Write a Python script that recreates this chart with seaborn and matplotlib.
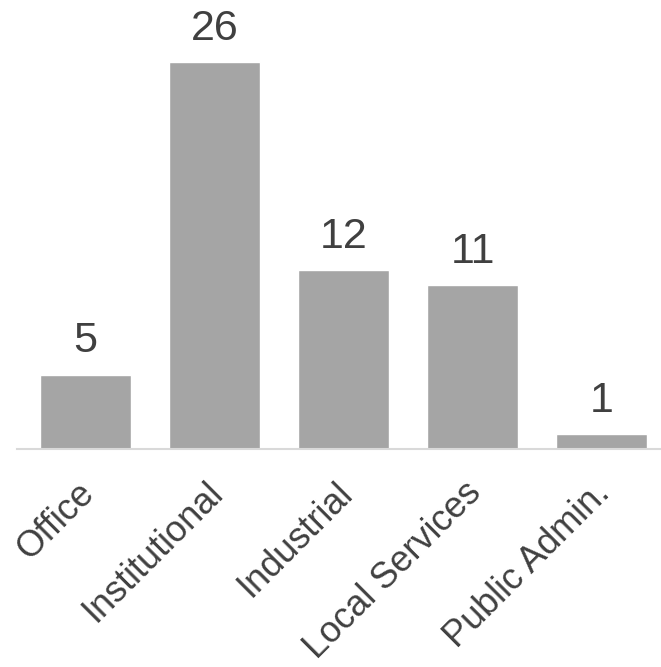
import matplotlib
matplotlib.use("Agg")
import matplotlib.pyplot as plt
import matplotlib.transforms as mtransforms
import seaborn as sns
import pandas as pd

categories = ["Office", "Institutional", "Industrial", "Local Services", "Public Admin."]
counts = [5, 26, 12, 11, 1]

sns.set_style("white")
plt.rcParams["font.family"] = ["Liberation Sans", "DejaVu Sans"]

df = pd.DataFrame({"category": categories, "count": counts})

fig = plt.figure(figsize=(6.61, 6.67), dpi=100)
# axes spans px 17..661 horizontally, baseline at px 449
ax = fig.add_axes([17 / 661, 1 - 449 / 667, 644 / 661, 449 / 667])

sns.barplot(data=df, x="category", y="count", color="#a5a5a5", saturation=1,
            width=0.705, ax=ax)

ax.set_xlim(-0.53, 4.46)
ax.set_ylim(0, 30.17)

ax.bar_label(ax.containers[0], fmt="%d", padding=9.5, fontsize=31, color="#404040")

for s in ["top", "right", "left"]:
    ax.spines[s].set_visible(False)
ax.spines["bottom"].set_color("#d9d9d9")
ax.spines["bottom"].set_linewidth(1.5)

ax.set_yticks([])
ax.set_xlabel("")
ax.set_ylabel("")
ax.tick_params(axis="x", length=0, pad=19, labelsize=26, colors="#404040")
offset = mtransforms.ScaledTranslation(-9 / 100, 0, fig.dpi_scale_trans)
for lab in ax.get_xticklabels():
    lab.set_rotation(45)
    lab.set_ha("right")
    lab.set_va("top")
    lab.set_rotation_mode("anchor")
    lab.set_transform(lab.get_transform() + offset)

fig.savefig("out.png", dpi=100)
